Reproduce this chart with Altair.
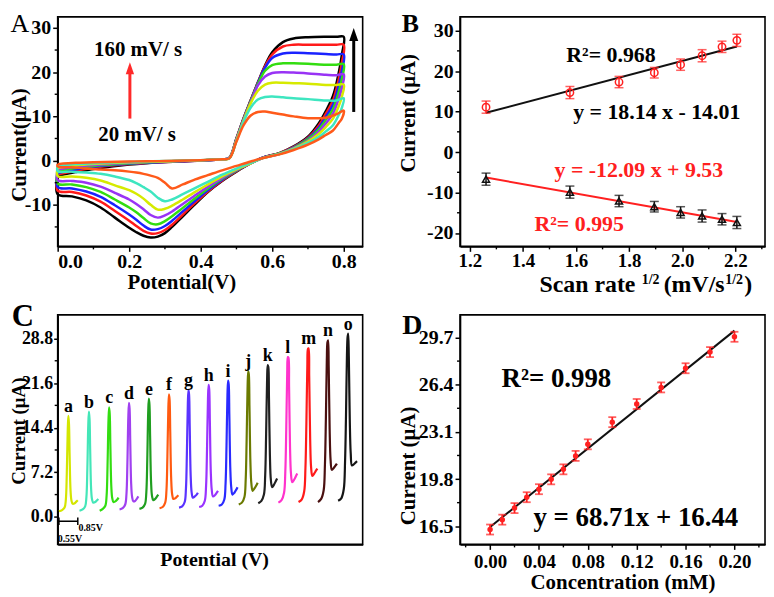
import altair as alt
import pandas as pd

FONT = "Liberation Serif"
W, H = 307, 231

# ---------------- Panel A : cyclic voltammograms ----------------
scan_rates = ["160", "140", "120", "100", "80", "60", "40", "20"]
cv_colors = ["#000000", "#ff1a1a", "#1a22ff", "#33dd11", "#9933f5", "#d6ea00", "#3ee6c0", "#ff5a1a"]
fwd_potential = [0.0, 0.05, 0.10, 0.20, 0.30, 0.40, 0.46, 0.48, 0.50, 0.52, 0.54,
                 0.56, 0.58, 0.60, 0.63, 0.66, 0.70, 0.75, 0.78, 0.80]
rev_potential = [0.795, 0.786, 0.77, 0.75, 0.73, 0.70, 0.66, 0.62, 0.575, 0.54, 0.50,
                 0.46, 0.42, 0.38, 0.35, 0.32, 0.30, 0.28, 0.26, 0.24, 0.22, 0.20,
                 0.16, 0.12, 0.08, 0.04, 0.0]
fwd_current = {
    "20":  [-0.8, -0.5, -0.4, -0.2, -0.1, 0.1, 0.3, 0.5, 4.3, 8.0, 10.2, 11.0, 11.1, 10.8, 10.4, 10.0, 9.6, 9.7, 10.5, 11.3],
    "40":  [-1.2, -0.8, -0.6, -0.3, -0.1, 0.1, 0.3, 0.5, 4.4, 8.8, 12.0, 13.8, 14.4, 14.5, 14.3, 14.1, 13.9, 13.6, 13.6, 14.1],
    "60":  [-1.6, -1.1, -0.8, -0.4, -0.2, 0.1, 0.3, 0.5, 4.6, 9.0, 13.0, 15.8, 17.2, 17.6, 17.6, 17.5, 17.4, 17.1, 17.1, 17.2],
    "80":  [-2.0, -1.4, -1.0, -0.5, -0.2, 0.1, 0.3, 0.6, 4.7, 9.2, 13.2, 17.0, 19.0, 19.8, 20.0, 19.9, 19.7, 19.4, 19.3, 19.5],
    "100": [-2.4, -1.7, -1.2, -0.6, -0.2, 0.1, 0.3, 0.6, 4.8, 9.3, 13.4, 17.3, 20.3, 21.6, 22.0, 22.0, 21.9, 21.7, 21.7, 21.8],
    "120": [-2.8, -2.0, -1.4, -0.7, -0.3, 0.0, 0.3, 0.6, 4.9, 9.4, 13.5, 17.5, 21.0, 23.2, 24.2, 24.4, 24.3, 24.1, 24.0, 24.0],
    "140": [-3.1, -2.3, -1.6, -0.8, -0.3, 0.0, 0.3, 0.6, 5.0, 9.5, 13.6, 17.6, 21.3, 24.0, 25.8, 26.2, 26.2, 26.2, 26.2, 26.2],
    "160": [-3.4, -2.6, -1.9, -0.9, -0.3, 0.0, 0.3, 0.6, 5.0, 9.6, 13.7, 17.7, 21.5, 24.5, 26.8, 27.6, 27.9, 28.0, 28.0, 28.0],
}
rev_current = {
    "20":  [9.5, 8.5, 6.8, 5.8, 4.8, 3.6, 2.4, 1.4, 0.6, -0.2, -1.2, -2.2, -3.3, -4.4, -5.4, -6.3, -5.0, -3.9, -3.4, -3.0, -2.7, -2.5, -2.2, -2.0, -1.8, -1.5, -1.3],
    "40":  [12.0, 10.3, 8.0, 6.6, 5.3, 4.0, 2.6, 1.5, 0.6, -0.5, -1.8, -3.2, -4.8, -6.4, -7.6, -8.8, -9.2, -8.4, -7.0, -6.0, -5.1, -4.4, -3.6, -3.0, -2.7, -2.5, -2.4],
    "60":  [14.5, 12.3, 9.5, 7.6, 6.0, 4.3, 2.7, 1.5, 0.6, -0.6, -2.0, -3.6, -5.4, -7.3, -8.8, -10.2, -10.9, -11.1, -10.0, -8.6, -7.5, -6.7, -5.6, -4.5, -3.9, -3.6, -3.5],
    "80":  [16.5, 14.0, 10.6, 8.4, 6.5, 4.5, 2.8, 1.5, 0.6, -0.6, -2.1, -3.9, -5.9, -8.1, -9.8, -11.5, -12.4, -12.9, -12.3, -11.0, -9.8, -8.8, -7.3, -5.9, -5.0, -4.6, -4.4],
    "100": [18.5, 15.5, 11.6, 9.2, 7.0, 4.8, 2.9, 1.6, 0.6, -0.6, -2.2, -4.1, -6.3, -8.8, -10.7, -12.6, -13.7, -14.4, -14.2, -13.0, -11.7, -10.6, -8.8, -7.1, -6.0, -5.4, -5.2],
    "120": [20.3, 17.0, 12.6, 9.9, 7.4, 5.0, 3.0, 1.6, 0.7, -0.6, -2.3, -4.3, -6.7, -9.4, -11.5, -13.6, -14.8, -15.5, -15.6, -14.7, -13.4, -12.2, -10.1, -8.2, -7.0, -6.3, -6.0],
    "140": [22.2, 18.4, 13.6, 10.6, 7.9, 5.2, 3.1, 1.7, 0.7, -0.6, -2.4, -4.5, -7.0, -9.9, -12.2, -14.5, -15.7, -16.4, -16.5, -15.9, -14.8, -13.6, -11.4, -9.3, -7.9, -7.1, -6.8],
    "160": [24.0, 19.8, 14.6, 11.2, 8.4, 5.4, 3.2, 1.7, 0.7, -0.6, -2.5, -4.6, -7.1, -10.2, -12.6, -15.0, -16.4, -17.2, -17.4, -17.0, -16.2, -15.2, -12.9, -10.6, -9.0, -8.1, -7.6],
}
a_minor_x = [0.1, 0.3, 0.5, 0.7]
a_minor_y = [-15, -5, 5, 15, 25]

# ---------------- Panel B : peak current vs scan rate^1/2 ----------------
b_x = [1.261, 1.577, 1.762, 1.895, 1.994, 2.075, 2.150, 2.206]
ox_current = [11.1, 14.7, 17.3, 19.6, 21.6, 23.8, 26.0, 27.6]
red_current = [-6.7, -9.9, -12.1, -13.5, -14.9, -15.8, -16.6, -17.4]
b_error = [1.5, 1.5, 1.4, 1.3, 1.4, 1.5, 1.4, 1.5]
ox_fit_line = [9.7, 26.1]     # drawn fit line, ends
red_fit_line = [-6.3, -17.3]
b_minor_x = [1.3, 1.5, 1.7, 1.9, 2.1, 2.3]
b_minor_y = [-15, -5, 5, 15, 25]

# ---------------- Panel C : DPV curves ----------------
dpv_labels = list("abcdefghijklmno")
dpv_colors = ["#d4e600", "#44e6b8", "#33dd11", "#a040f0", "#1f9e1f", "#ff5a10", "#5a33ff",
              "#9933ff", "#2a2aff", "#6b7a00", "#202020", "#ff33cc", "#ff1a1a", "#4a1010", "#151515"]
dpv_offsets = [0.0, 0.327, 0.648, 0.964, 1.28, 1.60, 1.91, 2.23, 2.54, 2.86, 3.17, 3.49, 3.81, 4.12, 4.44]
dpv_potential = [0.55, 0.60, 0.64, 0.66, 0.675, 0.69, 0.70, 0.71, 0.72, 0.735, 0.75, 0.77, 0.80, 0.83, 0.85]
dpv_current = {
    "a": [0.9, 1.1, 1.5, 2.8, 7.0, 14.0, 16.3, 15.0, 10.0, 4.2, 2.6, 2.1, 2.2, 2.5, 2.7],
    "b": [1.0, 1.2, 1.7, 3.2, 7.8, 15.0, 17.0, 15.8, 10.8, 4.5, 2.8, 2.3, 2.4, 2.7, 2.9],
    "c": [1.0, 1.3, 1.8, 3.4, 8.3, 15.6, 17.7, 16.6, 11.5, 4.9, 3.0, 2.4, 2.5, 2.8, 3.1],
    "d": [1.2, 1.4, 2.0, 3.7, 8.8, 16.3, 18.4, 17.4, 12.3, 5.3, 3.2, 2.5, 2.6, 3.0, 3.3],
    "e": [1.3, 1.5, 2.1, 4.0, 9.3, 17.0, 19.1, 18.1, 13.0, 5.7, 3.4, 2.7, 2.9, 3.3, 3.6],
    "f": [1.4, 1.6, 2.3, 4.3, 9.8, 17.6, 19.8, 18.9, 13.8, 6.2, 3.7, 2.9, 3.0, 3.3, 3.5],
    "g": [1.5, 1.7, 2.4, 4.6, 10.3, 18.3, 20.5, 19.7, 14.6, 6.7, 4.0, 3.1, 3.3, 3.6, 3.9],
    "h": [1.6, 1.8, 2.6, 5.0, 10.9, 19.0, 21.3, 20.6, 15.5, 7.3, 4.4, 3.3, 3.5, 3.9, 4.2],
    "i": [1.8, 2.0, 2.8, 5.4, 11.5, 19.7, 22.0, 21.4, 16.4, 7.9, 4.8, 3.6, 3.9, 4.4, 4.8],
    "j": [2.0, 2.3, 3.2, 6.0, 12.5, 21.0, 23.5, 23.0, 17.8, 8.8, 5.4, 4.2, 4.6, 5.1, 5.5],
    "k": [2.2, 2.6, 3.6, 6.7, 13.4, 22.0, 24.5, 24.2, 19.3, 9.9, 6.0, 4.8, 5.2, 5.8, 6.2],
    "l": [2.3, 2.7, 3.9, 7.3, 14.2, 23.2, 25.8, 25.7, 21.0, 11.2, 7.0, 5.6, 6.0, 6.6, 7.0],
    "m": [2.4, 2.8, 4.1, 7.9, 15.0, 24.3, 27.1, 27.2, 22.7, 12.7, 8.0, 6.6, 7.0, 7.5, 7.8],
    "n": [2.4, 2.9, 4.3, 8.4, 15.7, 25.3, 28.2, 28.5, 24.3, 14.2, 9.2, 7.6, 7.9, 8.3, 8.6],
    "o": [2.6, 3.0, 4.5, 8.9, 16.3, 26.0, 29.0, 29.6, 25.8, 15.7, 10.3, 8.3, 8.5, 8.8, 9.0],
}
c_minor_y = [3.6, 10.8, 18.0, 25.2]

# ---------------- Panel D : calibration ----------------
concentration = [0.00, 0.01, 0.02, 0.03, 0.04, 0.05, 0.06, 0.07, 0.08, 0.10, 0.12, 0.14, 0.16, 0.18, 0.20]
d_current = [16.27, 16.96, 17.77, 18.53, 19.09, 19.78, 20.48, 21.42, 22.23, 23.78, 25.05, 26.21, 27.55, 28.68, 29.75]
d_error = [0.35] * 15
d_fit = (68.71, 16.44)
d_minor_x = [-0.02, 0.02, 0.06, 0.10, 0.14, 0.18, 0.22]
d_minor_y = [18.15, 21.45, 24.75, 28.05]

# ================= build tables =================
rows = []
for r in scan_rates:
    seq = list(zip(fwd_potential, fwd_current[r])) + list(zip(rev_potential, rev_current[r]))
    seq.append((fwd_potential[0], fwd_current[r][0]))
    for i, (e, c) in enumerate(seq):
        rows.append({"rate": r, "E": e, "I": c, "k": i})
dfA = pd.DataFrame(rows)

dfB = pd.DataFrame({"x": b_x, "ox": ox_current, "red": red_current, "err": b_error})
dfB["ox_lo"] = dfB["ox"] - dfB["err"]
dfB["ox_hi"] = dfB["ox"] + dfB["err"]
dfB["red_lo"] = dfB["red"] - dfB["err"]
dfB["red_hi"] = dfB["red"] + dfB["err"]
dfBfit = pd.DataFrame({"x": [b_x[0], b_x[-1]], "oxf": ox_fit_line, "redf": red_fit_line})

rows = []
peaks = []
for lab, off in zip(dpv_labels, dpv_offsets):
    vals = dpv_current[lab]
    for i, (e, c) in enumerate(zip(dpv_potential, vals)):
        rows.append({"curve": lab, "x": off + e - dpv_potential[0], "I": c, "k": i})
    j = vals.index(max(vals))
    peaks.append({"curve": lab, "x": off + dpv_potential[j] - dpv_potential[0], "I": vals[j]})
dfC = pd.DataFrame(rows)
dfCpk = pd.DataFrame(peaks)

dfD = pd.DataFrame({"c": concentration, "I": d_current, "err": d_error})
dfD["lo"] = dfD["I"] - dfD["err"]
dfD["hi"] = dfD["I"] + dfD["err"]
dfDfit = pd.DataFrame({"c": [concentration[0], concentration[-1]],
                       "I": [d_fit[0] * concentration[0] + d_fit[1], d_fit[0] * concentration[-1] + d_fit[1]]})


def txt(s, x, y, size=19, color="black", weight="bold", align="center", baseline="middle", angle=0):
    return alt.Chart(pd.DataFrame({"t": [s]})).mark_text(
        font=FONT, fontSize=size, fontWeight=weight, color=color, align=align, baseline=baseline,
        angle=angle
    ).encode(x=alt.value(x), y=alt.value(y), text="t:N")


def minor_y(vals, length=3):
    return alt.Chart(pd.DataFrame({"v": vals})).mark_rule(color="black", strokeWidth=1.4).encode(
        y=alt.Y("v:Q"), x=alt.value(0), x2=alt.value(-length))


def minor_x(vals, length=3):
    return alt.Chart(pd.DataFrame({"v": vals})).mark_rule(color="black", strokeWidth=1.4).encode(
        x=alt.X("v:Q"), y=alt.value(H), y2=alt.value(H + length))


MINUS = "replace(datum.label, '\u2212', '-')"

# ---------------- Panel A chart ----------------
xA = alt.X("E:Q", scale=alt.Scale(domain=[0, 0.853], nice=False),
           axis=alt.Axis(values=[0, 0.2, 0.4, 0.6, 0.8], format=".1f", title=None, labelPadding=0))
yA = alt.Y("I:Q", scale=alt.Scale(domain=[-19.4, 32.5], nice=False),
           axis=alt.Axis(values=[-10, 0, 10, 20, 30], labelExpr=MINUS, title=None))
linesA = alt.Chart(dfA).mark_line(interpolate="catmull-rom", strokeWidth=2.5).encode(
    x=xA, y=yA, order="k:Q",
    color=alt.Color("rate:N", scale=alt.Scale(domain=scan_rates, range=cv_colors), legend=None))
redArrow = alt.Chart(pd.DataFrame({"a": [0]})).mark_rule(color="#ff2a2a", strokeWidth=3).encode(
    x=alt.datum(0.202), y=alt.datum(9.5), y2=alt.datum(20.5))
redHead = alt.Chart(pd.DataFrame({"a": [0]})).mark_point(
    shape="M0,-1L0.7,1L-0.7,1Z", filled=True, color="#ff2a2a", opacity=1, size=144).encode(
    x=alt.datum(0.202), y=alt.datum(20.9))
blkArrow = alt.Chart(pd.DataFrame({"a": [0]})).mark_rule(color="black", strokeWidth=3).encode(
    x=alt.datum(0.828), y=alt.datum(11.0), y2=alt.datum(28.0))
blkHead = alt.Chart(pd.DataFrame({"a": [0]})).mark_point(
    shape="M0,-1L0.7,1L-0.7,1Z", filled=True, color="black", opacity=1, size=169).encode(
    x=alt.datum(0.828), y=alt.datum(28.5))
panelA = alt.layer(
    linesA, minor_x(a_minor_x), minor_y(a_minor_y), redArrow, redHead, blkArrow, blkHead,
    txt("160 mV/ s", 81, 33, size=21),
    txt("20 mV/ s", 80, 119, size=21),
    txt("Potential(V)", 125, 268, size=21),
    txt("Current(\u03bcA)", -38, 129, size=21, angle=270),
    txt("A", -38, 7, size=26, weight="normal"),
).properties(width=W, height=H)

# ---------------- Panel B chart ----------------
xB = alt.X("x:Q", scale=alt.Scale(domain=[1.163, 2.312], nice=False),
           axis=alt.Axis(values=[1.2, 1.4, 1.6, 1.8, 2.0, 2.2], format=".1f", title=None,
                         labelPadding=0, labelFontSize=19))
yB = alt.Y("oxf:Q", scale=alt.Scale(domain=[-23.3, 33.4], nice=False),
           axis=alt.Axis(values=[-20, -10, 0, 10, 20, 30], labelExpr=MINUS, title=None))
baseB = alt.Chart(dfB)
panelB = alt.layer(
    alt.Chart(dfBfit).mark_line(color="#111111", strokeWidth=2).encode(x=xB, y=yB),
    alt.Chart(dfBfit).mark_line(color="#ff2020", strokeWidth=2).encode(x="x:Q", y="redf:Q"),
    minor_x(b_minor_x), minor_y(b_minor_y),
    baseB.mark_rule(color="#ff2020", strokeWidth=1.5).encode(x="x:Q", y="ox_lo:Q", y2="ox_hi:Q"),
    baseB.mark_tick(color="#ff2020", thickness=1.5, size=9, orient="horizontal").encode(x="x:Q", y="ox_lo:Q"),
    baseB.mark_tick(color="#ff2020", thickness=1.5, size=9, orient="horizontal").encode(x="x:Q", y="ox_hi:Q"),
    baseB.mark_point(shape="circle", color="#ff2020", strokeWidth=1.5, size=55, opacity=1).encode(x="x:Q", y="ox:Q"),
    baseB.mark_rule(color="#111111", strokeWidth=1.5).encode(x="x:Q", y="red_lo:Q", y2="red_hi:Q"),
    baseB.mark_tick(color="#111111", thickness=1.5, size=9, orient="horizontal").encode(x="x:Q", y="red_lo:Q"),
    baseB.mark_tick(color="#111111", thickness=1.5, size=9, orient="horizontal").encode(x="x:Q", y="red_hi:Q"),
    baseB.mark_point(shape="triangle-up", color="#111111", strokeWidth=1.5, size=50, opacity=1).encode(x="x:Q", y="red:Q"),
    txt("R\u00b2= 0.968", 152, 38, size=22),
    txt("y = 18.14 x - 14.01", 198, 96, size=22),
    txt("y = -12.09 x + 9.53", 180, 154, size=22, color="#ff2020"),
    txt("R\u00b2= 0.995", 120, 209, size=22, color="#ff2020"),
    txt("Scan rate", 80, 277, size=24, align="left", baseline="alphabetic"),
    txt("1/2", 183, 269, size=14, align="left", baseline="alphabetic"),
    txt("(mV/s", 205, 277, size=24, align="left", baseline="alphabetic"),
    txt("1/2", 267, 269, size=14, align="left", baseline="alphabetic"),
    txt(")", 286, 277, size=24, align="left", baseline="alphabetic"),
    txt("Current (\u03bcA)", -51, 97, size=21, angle=270),
    txt("B", -50, 7, size=26),
).properties(width=W, height=H)

# ---------------- Panel C chart ----------------
xC = alt.X("x:Q", scale=alt.Scale(domain=[-0.02, 4.83], nice=False),
           axis=alt.Axis(labels=False, ticks=False, title=None))
yC = alt.Y("I:Q", scale=alt.Scale(domain=[-4.44, 32.6], nice=False),
           axis=alt.Axis(values=[0, 7.2, 14.4, 21.6, 28.8], format=".1f", title=None,
                         labelFontSize=18, tickSize=4, labelPadding=1))
linesC = alt.Chart(dfC).mark_line(interpolate="catmull-rom", strokeWidth=2.2).encode(
    x=xC, y=yC, order="k:Q",
    color=alt.Color("curve:N", scale=alt.Scale(domain=dpv_labels, range=dpv_colors), legend=None))
lettersC = alt.Chart(dfCpk).mark_text(font=FONT, fontSize=18, fontWeight="bold", color="black",
                                      baseline="bottom", dy=0).encode(x="x:Q", y="I:Q", text="curve:N")
barC = alt.Chart(pd.DataFrame({"a": [0]})).mark_rule(color="black", strokeWidth=1.5).encode(
    x=alt.datum(0.0), x2=alt.datum(0.3), y=alt.datum(-0.7))
capC = alt.Chart(pd.DataFrame({"x": [0.0, 0.3]})).mark_rule(color="black", strokeWidth=1.5).encode(
    x="x:Q", y=alt.datum(-0.1), y2=alt.datum(-1.3))
panelC = alt.layer(
    linesC, minor_y(c_minor_y), lettersC, barC, capC,
    alt.Chart(pd.DataFrame({"t": ["0.85V"]})).mark_text(font=FONT, fontSize=10, fontWeight="bold",
        align="left", baseline="middle").encode(x=alt.datum(0.31), y=alt.datum(-1.8), text="t:N"),
    alt.Chart(pd.DataFrame({"t": ["0.55V"]})).mark_text(font=FONT, fontSize=10, fontWeight="bold",
        align="left", baseline="middle").encode(x=alt.datum(-0.02), y=alt.datum(-3.5), text="t:N"),
    txt("Potential (V)", 158, 247, size=20),
    txt("Current (\u03bcA)", -39, 117, size=19, angle=270),
    txt("C", -35, 2, size=31),
).properties(width=W, height=H)

# ---------------- Panel D chart ----------------
xD = alt.X("c:Q", scale=alt.Scale(domain=[-0.0246, 0.225], nice=False),
           axis=alt.Axis(values=[0, 0.04, 0.08, 0.12, 0.16, 0.20], format=".2f",
                         title=None, labelFontSize=19, labelPadding=3))
yD = alt.Y("I:Q", scale=alt.Scale(domain=[15.23, 31.28], nice=False),
           axis=alt.Axis(values=[16.5, 19.8, 23.1, 26.4, 29.7], format=".1f", title=None, labelFontSize=20))
baseD = alt.Chart(dfD)
panelD = alt.layer(
    alt.Chart(dfDfit).mark_line(color="#111111", strokeWidth=2).encode(x=xD, y=yD),
    minor_x(d_minor_x), minor_y(d_minor_y),
    baseD.mark_rule(color="#ff2020", strokeWidth=1.8).encode(x="c:Q", y="lo:Q", y2="hi:Q"),
    baseD.mark_tick(color="#ff2020", thickness=1.8, size=8, orient="horizontal").encode(x="c:Q", y="lo:Q"),
    baseD.mark_tick(color="#ff2020", thickness=1.8, size=8, orient="horizontal").encode(x="c:Q", y="hi:Q"),
    baseD.mark_point(shape="circle", filled=True, color="#ff2020", size=30, opacity=1).encode(x="c:Q", y="I:Q"),
    txt("R\u00b2= 0.998", 97, 65, size=27),
    txt("y = 68.71x + 16.44", 177, 204, size=27),
    txt("Concentration (mM)", 164, 270, size=21),
    txt("Current (\u03bcA)", -51, 152, size=21, angle=270),
    txt("D", -48, 11, size=28),
).properties(width=W, height=H)

chart = alt.concat(panelA, panelB, panelC, panelD, columns=2,
                   spacing={"row": 69, "column": 98}, bounds="flush").resolve_scale(
    color="independent"
).properties(
    padding={"left": 0, "top": 0, "right": 0, "bottom": 0}
).configure_view(stroke="black", strokeWidth=1.6).configure_axis(
    labelFont=FONT, labelFontWeight="bold", labelFontSize=20, labelColor="black",
    titleFont=FONT, titleFontWeight="bold", titleFontSize=21, titleColor="black",
    domainColor="black", domainWidth=1.6, tickColor="black", tickWidth=1.5, tickSize=5,
    labelPadding=2, titlePadding=2, grid=False
).configure_text(font=FONT)

chart.save("out.html", embed_options={"renderer": "svg", "actions": False})
